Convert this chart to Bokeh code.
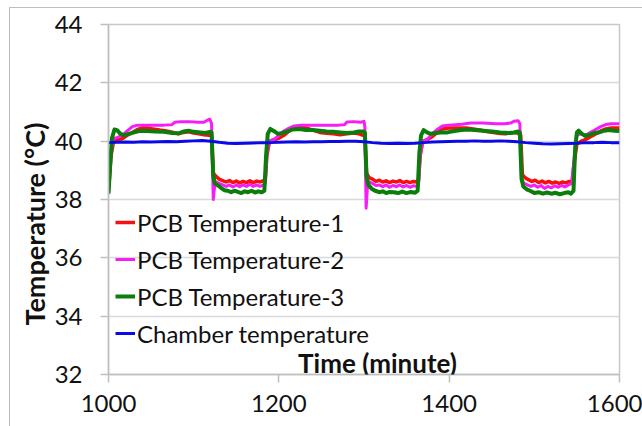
from bokeh.plotting import figure
from bokeh.models import (FixedTicker, Legend, LegendItem, Label, Title, Range1d)
from bokeh.embed import file_html
from bokeh.resources import INLINE

# ---- data -------------------------------------------------------------
x_ticks = [1000, 1200, 1400, 1600]
y_ticks = [32, 34, 36, 38, 40, 42, 44]

series_names = ["PCB Temperature-1", "PCB Temperature-2",
                "PCB Temperature-3", "Chamber temperature"]

time_pcb1 = [1000, 1003, 1006, 1010, 1016, 1022, 1028, 1034, 1040, 1046, 1052, 1060,
             1068, 1076, 1082, 1088, 1094, 1100, 1106, 1112, 1118, 1121, 1123, 1126,
             1130, 1134, 1138, 1142, 1146, 1150, 1154, 1158, 1162, 1166, 1170, 1174,
             1178, 1182, 1184, 1186, 1189, 1194, 1200, 1206, 1212, 1218, 1224, 1232,
             1240, 1248, 1256, 1264, 1272, 1280, 1288, 1294, 1299, 1301, 1303, 1306,
             1310, 1314, 1318, 1322, 1326, 1330, 1334, 1338, 1342, 1346, 1350, 1354,
             1358, 1362, 1364, 1366, 1369, 1374, 1380, 1386, 1392, 1400, 1410, 1420,
             1428, 1436, 1444, 1452, 1460, 1466, 1472, 1478, 1482, 1484, 1486, 1489,
             1493, 1497, 1501, 1505, 1509, 1513, 1517, 1521, 1525, 1529, 1533, 1537,
             1541, 1544, 1547, 1550, 1555, 1560, 1566, 1572, 1578, 1584, 1590, 1600]
temp_pcb1 = [38.3, 39.5, 40.0, 40.05, 40.08, 40.2, 40.3, 40.4, 40.45, 40.45, 40.42, 40.38,
             40.35, 40.3, 40.25, 40.3, 40.32, 40.28, 40.25, 40.22, 40.2, 40.2, 38.9, 38.8,
             38.7, 38.65, 38.6, 38.65, 38.58, 38.63, 38.57, 38.62, 38.58, 38.64, 38.58, 38.63,
             38.6, 38.65, 38.6, 39.5, 40.0, 40.05, 40.1, 40.2, 40.35, 40.45, 40.48, 40.45,
             40.38, 40.3, 40.27, 40.25, 40.22, 40.25, 40.28, 40.25, 40.2, 40.2, 38.9, 38.75,
             38.7, 38.62, 38.66, 38.6, 38.64, 38.58, 38.63, 38.6, 38.65, 38.58, 38.62, 38.58,
             38.62, 38.6, 38.65, 39.5, 40.0, 40.05, 40.15, 40.3, 40.42, 40.45, 40.45, 40.45,
             40.42, 40.38, 40.33, 40.3, 40.26, 40.25, 40.28, 40.3, 40.25, 40.2, 38.85, 38.75,
             38.68, 38.62, 38.66, 38.58, 38.63, 38.57, 38.62, 38.56, 38.6, 38.55, 38.6, 38.57,
             38.62, 38.55, 39.3, 39.9, 40.0, 40.05, 40.15, 40.25, 40.35, 40.42, 40.45, 40.45]

time_pcb2 = [1000, 1003, 1006, 1010, 1016, 1022, 1028, 1034, 1045, 1055, 1065, 1074,
             1078, 1085, 1095, 1105, 1112, 1116, 1119, 1121, 1123, 1124, 1126, 1130,
             1134, 1138, 1142, 1146, 1150, 1154, 1158, 1162, 1166, 1170, 1174, 1178,
             1182, 1184, 1186, 1189, 1194, 1200, 1206, 1212, 1218, 1226, 1240, 1255,
             1270, 1277, 1280, 1288, 1296, 1300, 1301, 1302.5, 1304, 1306, 1310, 1314,
             1318, 1322, 1326, 1330, 1334, 1338, 1342, 1346, 1350, 1354, 1358, 1362,
             1364, 1366, 1369, 1374, 1380, 1386, 1392, 1400, 1415, 1425, 1440, 1455,
             1465, 1472, 1476, 1481, 1483, 1485, 1488, 1492, 1496, 1500, 1504, 1508,
             1512, 1516, 1520, 1524, 1528, 1532, 1536, 1540, 1544, 1547, 1550, 1554,
             1560, 1566, 1572, 1578, 1584, 1590, 1600]
temp_pcb2 = [38.3, 39.6, 40.1, 40.12, 40.2, 40.35, 40.5, 40.55, 40.55, 40.55, 40.55, 40.56,
             40.65, 40.67, 40.67, 40.65, 40.65, 40.72, 40.75, 40.6, 38.0, 38.3, 38.6, 38.55,
             38.5, 38.45, 38.5, 38.43, 38.5, 38.44, 38.5, 38.45, 38.52, 38.45, 38.5, 38.45,
             38.5, 38.55, 39.6, 40.0, 40.05, 40.2, 40.35, 40.45, 40.52, 40.55, 40.55, 40.55,
             40.55, 40.56, 40.66, 40.67, 40.65, 40.68, 40.5, 37.7, 38.4, 38.6, 38.55, 38.48,
             38.5, 38.44, 38.5, 38.42, 38.48, 38.44, 38.5, 38.43, 38.48, 38.42, 38.47, 38.45,
             38.5, 39.5, 40.0, 40.05, 40.25, 40.4, 40.52, 40.55, 40.58, 40.62, 40.62, 40.6,
             40.6, 40.62, 40.68, 40.7, 40.6, 38.7, 38.55, 38.5, 38.45, 38.5, 38.42, 38.48,
             38.38, 38.45, 38.4, 38.47, 38.42, 38.48, 38.43, 38.5, 38.55, 39.5, 40.2, 40.25,
             40.2, 40.3, 40.4, 40.5, 40.57, 40.6, 40.6]

time_pcb3 = [1000, 1002, 1004, 1007, 1010, 1014, 1018, 1024, 1030, 1036, 1045, 1055,
             1065, 1075, 1082, 1088, 1094, 1100, 1108, 1114, 1119, 1121, 1123, 1125,
             1128, 1132, 1136, 1140, 1144, 1148, 1152, 1156, 1160, 1164, 1168, 1172,
             1176, 1180, 1183, 1185, 1187, 1190, 1194, 1199, 1204, 1210, 1216, 1224,
             1232, 1240, 1248, 1256, 1264, 1272, 1280, 1288, 1294, 1299, 1301, 1303,
             1305, 1309, 1313, 1318, 1322, 1326, 1330, 1335, 1340, 1345, 1350, 1355,
             1360, 1363, 1365, 1367, 1370, 1374, 1378, 1384, 1390, 1398, 1406, 1414,
             1422, 1430, 1440, 1450, 1460, 1470, 1476, 1481, 1483, 1485, 1487, 1491,
             1495, 1500, 1505, 1510, 1515, 1520, 1525, 1530, 1535, 1540, 1543, 1546,
             1548, 1550, 1552, 1556, 1560, 1565, 1570, 1576, 1582, 1588, 1594, 1600]
temp_pcb3 = [38.2, 39.2, 40.1, 40.4, 40.38, 40.25, 40.2, 40.25, 40.3, 40.35, 40.35, 40.33,
             40.32, 40.28, 40.27, 40.33, 40.36, 40.32, 40.3, 40.28, 40.32, 40.3, 38.8, 38.55,
             38.5, 38.4, 38.32, 38.3, 38.25, 38.3, 38.26, 38.22, 38.28, 38.25, 38.3, 38.24,
             38.28, 38.25, 38.3, 39.5, 40.25, 40.42, 40.35, 40.25, 40.28, 40.33, 40.4, 40.42,
             40.38, 40.38, 40.36, 40.33, 40.32, 40.3, 40.28, 40.3, 40.33, 40.33, 40.3, 38.8,
             38.5, 38.37, 38.3, 38.25, 38.28, 38.22, 38.26, 38.25, 38.22, 38.27, 38.22, 38.26,
             38.23, 38.3, 39.6, 40.2, 40.38, 40.3, 40.25, 40.28, 40.3, 40.3, 40.35, 40.38,
             40.4, 40.38, 40.36, 40.33, 40.3, 40.28, 40.3, 40.33, 40.3, 38.7, 38.45, 38.35,
             38.3, 38.22, 38.25, 38.2, 38.24, 38.2, 38.23, 38.18, 38.22, 38.25, 38.2, 38.3,
             39.8, 40.3, 40.36, 40.25, 40.18, 40.22, 40.28, 40.3, 40.36, 40.38, 40.36, 40.35]

time_chamber = [1000, 1010, 1020, 1030, 1040, 1050, 1060, 1070, 1080, 1090, 1100, 1110,
                1120, 1130, 1140, 1150, 1160, 1170, 1180, 1190, 1200, 1210, 1220, 1230,
                1240, 1250, 1260, 1270, 1280, 1290, 1300, 1310, 1320, 1330, 1340, 1350,
                1360, 1370, 1380, 1390, 1400, 1410, 1420, 1430, 1440, 1450, 1460, 1470,
                1480, 1490, 1500, 1510, 1520, 1530, 1540, 1550, 1560, 1570, 1580, 1590, 1600]
temp_chamber = [39.95, 39.96, 39.97, 39.96, 39.98, 39.97, 39.98, 39.99, 39.98, 40.0, 40.01, 40.02,
                40.0, 39.96, 39.93, 39.92, 39.93, 39.94, 39.95, 39.95, 39.96, 39.97, 39.98, 39.97,
                39.98, 39.98, 39.99, 39.99, 40.0, 40.0, 39.98, 39.95, 39.93, 39.92, 39.93, 39.92,
                39.93, 39.95, 39.97, 39.98, 39.99, 40.0, 40.0, 40.01, 40.0, 40.0, 40.01, 40.0,
                39.98, 39.95, 39.93, 39.91, 39.9, 39.91, 39.92, 39.93, 39.95, 39.95, 39.96, 39.95, 39.95]

# ---- styling ----------------------------------------------------------
FONT = "Lato"
TEXT = "#111111"
colors = ["#F50F0F", "#F51EF5", "#0B7D0B", "#0A0AE6"]
widths = [3.5, 3, 4, 3]

# the chart sits inside a light frame that starts a few pixels in from the corner
p = figure(width=633, height=419, output_backend="svg", toolbar_location=None,
           x_range=Range1d(1000, 1600), y_range=Range1d(32, 44),
           min_border_left=98, min_border_right=24, min_border_top=16,
           min_border_bottom=53, margin=(7, 0, 0, 9),
           styles={"border-left": "1.5px solid #bdbdbd",
                   "border-top": "1.5px solid #bdbdbd"})
p.background_fill_color = "white"
p.border_fill_color = "white"
p.outline_line_color = "#c8c8c8"
p.outline_line_width = 1.5

p.xaxis.ticker = FixedTicker(ticks=x_ticks)
p.yaxis.ticker = FixedTicker(ticks=y_ticks)
for ax in (p.xaxis[0], p.yaxis[0]):
    ax.axis_line_color = "#bfbfbf"
    ax.axis_line_width = 1.5
    ax.major_tick_line_color = "#bfbfbf"
    ax.major_tick_line_width = 1.5
    ax.major_tick_out = 8
    ax.major_tick_in = 0
    ax.minor_tick_line_color = None
    ax.major_label_text_font = FONT
    ax.major_label_text_font_size = "24px"
    ax.major_label_text_color = TEXT
p.yaxis.major_label_standoff = 18
p.xaxis.major_label_standoff = 12

p.xgrid.grid_line_color = None
p.ygrid.grid_line_color = "#d9d9d9"
p.ygrid.grid_line_width = 1.5

times = [time_pcb1, time_pcb2, time_pcb3, time_chamber]
temps = [temp_pcb1, temp_pcb2, temp_pcb3, temp_chamber]
renderers = []
for t, v, c, w in zip(times, temps, colors, widths):
    r = p.line(t, v, line_color=c, line_width=w, line_join="round")
    renderers.append(r)

legend = Legend(items=[LegendItem(label=n, renderers=[r]) for n, r in zip(series_names, renderers)],
                location=(7, 26), padding=0, margin=0, spacing=7,
                glyph_width=20, glyph_height=30, label_height=30,
                label_standoff=2, border_line_color=None,
                background_fill_alpha=0,
                label_text_font=FONT, label_text_font_size="24px",
                label_text_color=TEXT)
p.add_layout(legend)

# x title sits inside the plot area, just above the time axis
p.add_layout(Label(x=269, y=12, x_units="screen", y_units="screen",
                   text="Time (minute)", text_font=FONT, text_font_size="26px",
                   text_font_style="bold", text_align="center",
                   text_baseline="middle", text_color=TEXT))
# y title, starting a little above the bottom of the plot area
p.add_layout(Title(text="Temperature (°C)", align="left", offset=49,
                   standoff=2, text_font=FONT, text_font_size="27px",
                   text_font_style="bold", text_color=TEXT), "left")

open("out.html", "w").write(file_html(p, INLINE))
